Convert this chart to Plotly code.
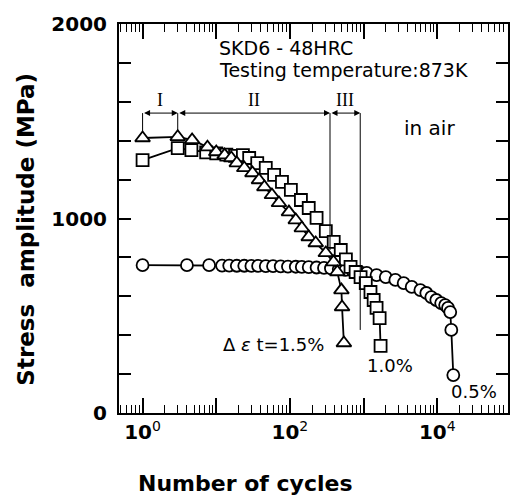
import math
import plotly.graph_objects as go

# ---------------- data ----------------
# delta eps_t = 1.5 %  (triangles)
N_15 = [1, 3, 4.7, 7.6, 10, 13, 16, 19, 24, 31, 38, 45, 57, 71, 97, 120, 145, 180,
        224, 307, 390, 440, 500, 510, 540]
S_15 = [1414, 1420, 1404, 1367, 1342, 1326, 1311, 1285, 1260, 1234, 1198, 1162, 1121,
        1080, 1033, 992, 951, 905, 874, 823, 776, 725, 632, 545, 360]

# delta eps_t = 1.0 %  (squares)
N_10 = [1, 3, 4.6, 7.3, 10, 13.7, 18, 23, 28, 36, 47, 61, 78, 103, 141, 180, 230,
        307, 393, 490, 575, 665, 780, 910, 1070, 1240, 1370, 1500, 1650, 1700]
S_10 = [1300, 1362, 1352, 1340, 1335, 1328, 1322, 1326, 1311, 1285, 1260, 1224, 1188,
        1147, 1095, 1054, 1003, 935, 880, 838, 790, 751, 725, 699, 668, 622, 581,
        540, 488, 345]

# delta eps_t = 0.5 %  (circles)
N_05 = [1, 4, 8, 12, 15, 19, 24, 30, 37, 47, 59, 75, 94, 120, 145, 180, 230, 290,
        360, 460, 570, 710, 880, 1100, 1500, 2000, 2700, 3500, 4500, 5900, 7100, 8300,
        9700, 11300, 12800, 14000, 15000, 15500, 16500]
S_05 = [760, 760, 760, 758, 758, 757, 757, 756, 756, 755, 755, 754, 753, 752, 751,
        750, 748, 746, 744, 740, 736, 731, 726, 720, 709, 699, 684, 668, 648, 632,
        617, 596, 581, 565, 555, 540, 519, 427, 195]

# stage boundaries (cycles) and where their marker lines end (MPa)
STAGE_N = [1, 3, 350, 900]
STAGE_LINE_BOTTOM = [1450, 1450, 838, 427]
STAGE_LINE_TOP = 1542
STAGE_LABEL_Y = 1609
STAGE_LABELS = ["I", "II", "III"]

X_TICK_VALS = [1, 10, 100, 1000, 10000]
X_TICK_TEXT = ["<b>10</b><sup>0</sup>", "", "<b>10</b><sup>2</sup>", "",
               "<b>10</b><sup>4</sup>"]
Y_TICK_VALS = [0, 200, 400, 600, 800, 1000, 1200, 1400, 1600, 1800, 2000]
Y_TICK_TEXT = ["<b>0</b>", "", "", "", "", "<b>1000</b>", "", "", "", "", "<b>2000</b>"]

# ---------------- figure ----------------
fig = go.Figure()

line_style = dict(color="black", width=1.8)
edge = dict(color="black", width=1.8)

fig.add_trace(go.Scatter(
    x=N_05, y=S_05, mode="lines+markers", line=line_style,
    marker=dict(symbol="circle", size=12, color="white", line=edge)))
fig.add_trace(go.Scatter(
    x=N_10, y=S_10, mode="lines+markers", line=line_style,
    marker=dict(symbol="square", size=12, color="white", line=edge)))
fig.add_trace(go.Scatter(
    x=N_15, y=S_15, mode="lines+markers", line=line_style,
    marker=dict(symbol="triangle-up", size=13, color="white", line=edge)))

# stage boundary lines (shapes on a log axis take data values)
for n, yb in zip(STAGE_N, STAGE_LINE_BOTTOM):
    fig.add_shape(type="line", xref="x", yref="y", x0=n, x1=n,
                  y0=yb, y1=STAGE_LINE_TOP, line=dict(color="black", width=1))

annotations = []
# double headed arrows and stage labels (annotations on a log axis take log10)
for i in range(3):
    a = math.log10(STAGE_N[i])
    b = math.log10(STAGE_N[i + 1])
    annotations.append(dict(
        x=b, y=STAGE_LINE_TOP, ax=a, ay=STAGE_LINE_TOP, xref="x", yref="y",
        axref="x", ayref="y", text="", showarrow=True, arrowside="end+start",
        arrowhead=2, arrowsize=1.2, arrowwidth=1, arrowcolor="black",
        standoff=0, startstandoff=0))
    annotations.append(dict(
        x=(a + b) / 2, y=STAGE_LABEL_Y, xref="x", yref="y", text=STAGE_LABELS[i],
        xanchor="center", yanchor="middle",
        showarrow=False, font=dict(family="Liberation Serif", size=18, color="black")))


def note(x, y, text, size=19, xanchor="center", angle=0):
    return dict(x=x, y=y, xref="paper", yref="paper", xanchor=xanchor,
                yanchor="middle", text=text, showarrow=False, textangle=angle,
                font=dict(family="DejaVu Sans", size=size, color="black"))


annotations += [
    note(0.251, 0.938, "SKD6 - 48HRC", 19, "left"),
    note(0.251, 0.882, "Testing temperature:873K", 19, "left"),
    note(0.798, 0.733, "in air", 20),
    note(0.396, 0.175, "Δ <i>ε</i> t=1.5%", 18),
    note(0.696, 0.123, "1.0%", 18),
    note(0.913, 0.054, "0.5%", 18),
    # axis titles
    note(0.325, -0.182, "<b>Number of cycles</b>", 22),
    note(-0.24, 0.473, "<b>Stress  amplitude (MPa)</b>", 23, "center", -90),
]

minor_vals = []
for dec in [0.1, 1, 10, 100, 1000, 10000]:
    for k in range(2, 10):
        minor_vals.append(k * dec)

fig.update_layout(
    width=513, height=498,
    margin=dict(l=119, r=3, t=24, b=85),
    plot_bgcolor="white", paper_bgcolor="white",
    showlegend=False,
    annotations=annotations,
    xaxis=dict(
        type="log", range=[-0.32, 4.96],
        showline=True, linewidth=2, linecolor="black", mirror="ticks",
        ticks="inside", ticklen=15, tickwidth=1.5, tickcolor="black",
        tickmode="array", tickvals=X_TICK_VALS, ticktext=X_TICK_TEXT,
        tickfont=dict(family="DejaVu Sans", size=20, color="black"),
        showgrid=False, zeroline=False,
        minor=dict(tickmode="array", tickvals=minor_vals, ticks="inside",
                   ticklen=8, tickwidth=1.2, tickcolor="black", showgrid=False),
    ),
    yaxis=dict(
        range=[0, 2000],
        showline=True, linewidth=2, linecolor="black", mirror="ticks",
        ticks="inside", ticklen=12, tickwidth=1.5, tickcolor="black",
        tickmode="array", tickvals=Y_TICK_VALS, ticktext=Y_TICK_TEXT,
        tickfont=dict(family="DejaVu Sans", size=20, color="black"),
        ticklabelstandoff=6,
        showgrid=False, zeroline=False,
    ),
)

fig.write_html("out.html")
